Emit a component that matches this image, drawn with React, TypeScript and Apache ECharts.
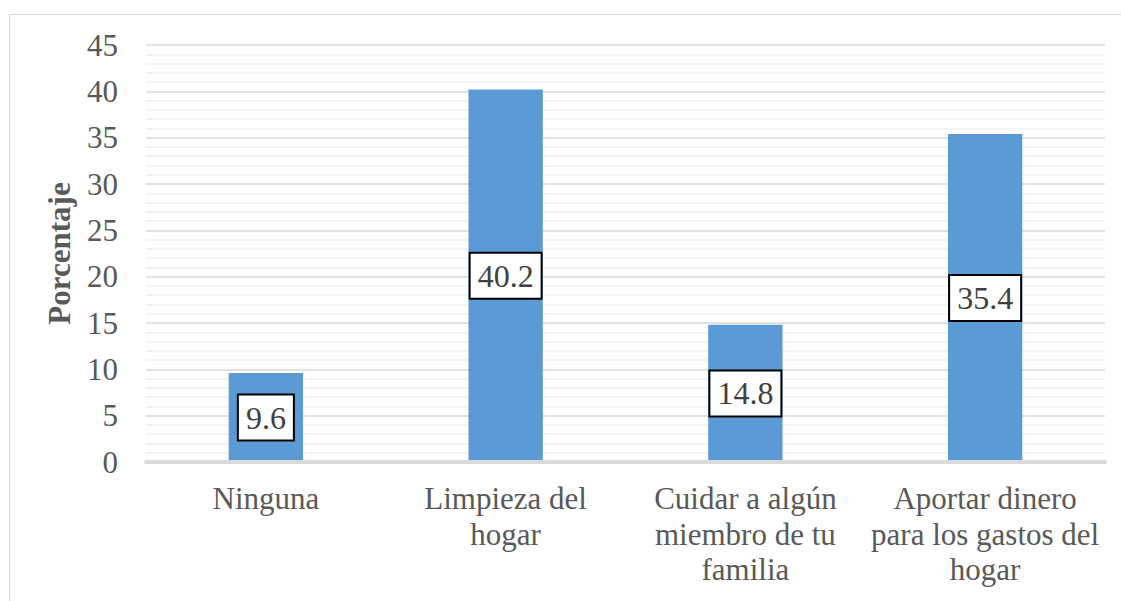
import React, { useEffect, useRef } from "react";
import * as echarts from "echarts";

const categories = [
  "Ninguna",
  "Limpieza del\nhogar",
  "Cuidar a algún\nmiembro de tu\nfamilia",
  "Aportar dinero\npara los gastos del\nhogar",
];
const values = [9.6, 40.2, 14.8, 35.4];
const yTicks = { min: 0, max: 45, interval: 5 };
const yAxisTitle = "Porcentaje";

const FONT = "Liberation Serif";

export default function App() {
  const ref = useRef<HTMLDivElement>(null);
  useEffect(() => {
    if (!ref.current) return;
    const chart = echarts.init(ref.current, null, { renderer: "svg" });
    chart.setOption({
      animation: false,
      backgroundColor: "#ffffff",
      textStyle: { fontFamily: FONT },
      grid: { left: 146, right: 16, top: 45, bottom: 139, containLabel: false },
      graphic: [
        {
          type: "line",
          shape: { x1: 9.5, y1: 14.5, x2: 9.5, y2: 601 },
          style: { stroke: "#d9d9d9", lineWidth: 1 },
          silent: true,
        },
        {
          type: "line",
          shape: { x1: 9, y1: 14.5, x2: 1121, y2: 14.5 },
          style: { stroke: "#d9d9d9", lineWidth: 1 },
          silent: true,
        },
      ],
      xAxis: {
        type: "category",
        data: categories,
        axisTick: { show: false },
        axisLine: { show: true, lineStyle: { color: "#d9d9d9", width: 4 } },
        axisLabel: {
          interval: 0,
          color: "#595959",
          fontFamily: FONT,
          fontSize: 31,
          lineHeight: 35.5,
          margin: 19,
        },
        z: 5,
      },
      yAxis: {
        type: "value",
        min: yTicks.min,
        max: yTicks.max,
        interval: yTicks.interval,
        name: yAxisTitle,
        nameLocation: "middle",
        nameGap: 71,
        nameTextStyle: {
          color: "#595959",
          fontFamily: FONT,
          fontSize: 31,
          fontWeight: "bold",
        },
        axisLine: { show: false },
        axisTick: { show: false },
        axisLabel: {
          color: "#595959",
          fontFamily: FONT,
          fontSize: 31,
          margin: 28,
        },
        splitLine: { show: true, lineStyle: { color: "#d9d9d9", width: 1.5 } },
        minorTick: { show: false, splitNumber: 5 },
        minorSplitLine: { show: true, lineStyle: { color: "#f0f0f0", width: 1.5 } },
      },
      series: [
        {
          type: "bar",
          data: values,
          barWidth: "31%",
          itemStyle: { color: "#5b9bd5" },
          label: {
            show: true,
            position: "inside",
            color: "#404040",
            fontFamily: FONT,
            fontSize: 32,
            lineHeight: 34,
            backgroundColor: "#ffffff",
            borderColor: "#000000",
            borderWidth: 2,
            padding: [5, 7],
          },
        },
      ],
    });
    return () => chart.dispose();
  }, []);
  return (
    <div
      ref={ref}
      style={{ position: "absolute", left: 0, top: 0, width: 1121, height: 601 }}
    />
  );
}
